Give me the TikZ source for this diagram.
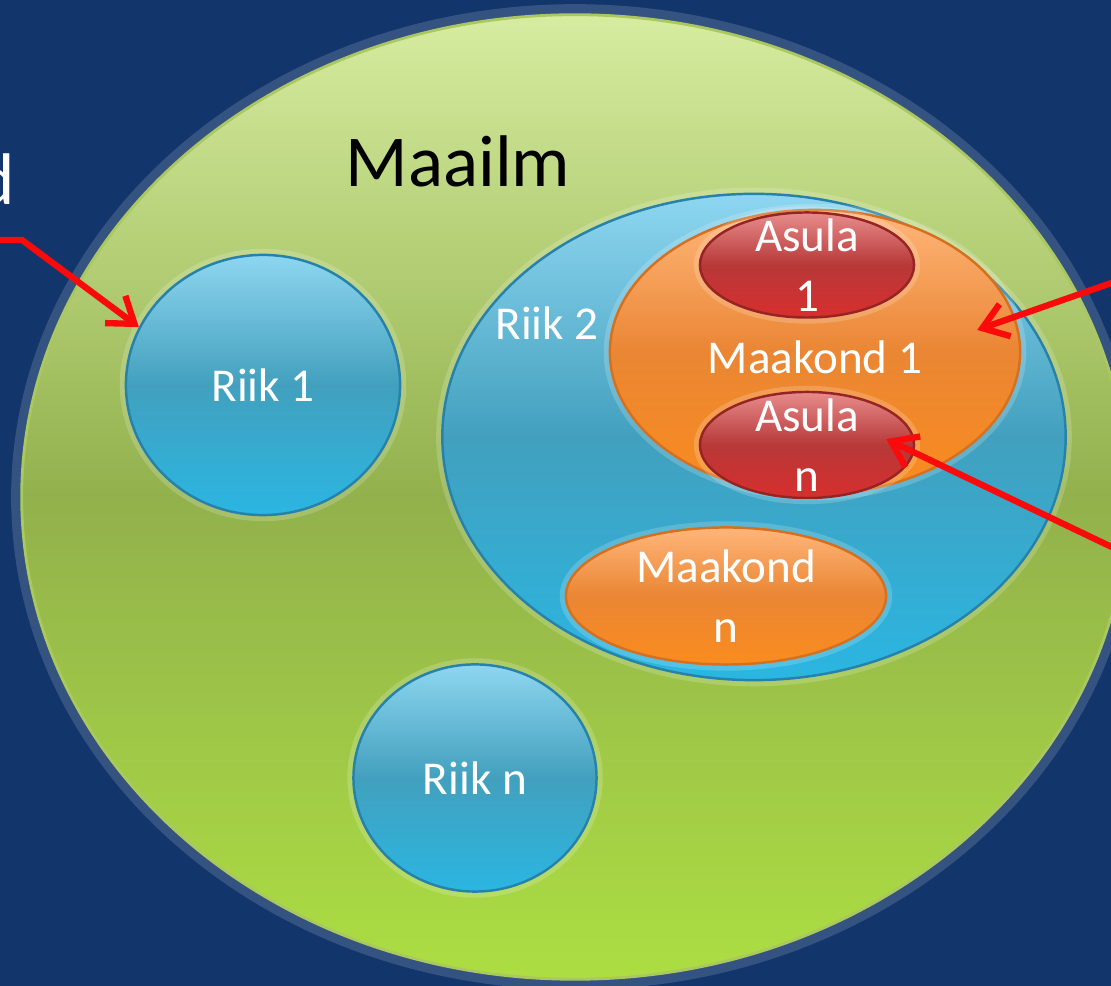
\documentclass[tikz,border=0pt]{standalone}
\usepackage{fontspec}
\setmainfont{Carlito}
\usetikzlibrary{shapes}
\usetikzlibrary{positioning}
\usetikzlibrary{arrows.meta}

\definecolor{bgblue}{RGB}{18,53,108}
\definecolor{greentop}{RGB}{214,236,160}
\definecolor{greenmid}{RGB}{146,177,76}
\definecolor{greenbot}{RGB}{172,222,66}
\definecolor{greenedge}{RGB}{170,200,95}
\definecolor{bluetop}{RGB}{142,214,240}
\definecolor{bluemid}{RGB}{66,160,190}
\definecolor{bluebot}{RGB}{42,182,226}
\definecolor{blueedge}{RGB}{38,130,170}
\definecolor{orangetop}{RGB}{255,182,122}
\definecolor{orangemid}{RGB}{234,134,52}
\definecolor{orangebot}{RGB}{250,140,30}
\definecolor{orangeedge}{RGB}{215,112,30}
\definecolor{redtop}{RGB}{232,140,140}
\definecolor{redmid}{RGB}{184,56,56}
\definecolor{redbot}{RGB}{216,46,46}
\definecolor{rededge}{RGB}{150,36,36}
\definecolor{arrowred}{RGB}{250,10,10}

\begin{document}
\begin{tikzpicture}[
    x=0.01cm, y=-0.01cm,
    font=\fontsize{13.4}{17}\selectfont
]
\tikzset{
    glow/.style = {preaction={draw=white, draw opacity=0.18, line width=3.5pt}},
    world/.style = {ellipse, draw=greenedge, line width=0.8pt, inner sep=0pt,
        top color=greentop, bottom color=greenbot, middle color=greenmid,
        preaction={draw=white, draw opacity=0.15, line width=6pt}},
    riik/.style = {ellipse, draw=blueedge, line width=0.7pt, inner sep=0pt,
        top color=bluetop, bottom color=bluebot, middle color=bluemid, glow},
    maakond/.style = {ellipse, draw=orangeedge, line width=0.7pt, inner sep=0pt,
        top color=orangetop, bottom color=orangebot, middle color=orangemid, glow},
    asula/.style = {ellipse, draw=rededge, line width=0.7pt, inner sep=0pt,
        top color=redtop, bottom color=redbot, middle color=redmid, glow},
    txt/.style = {text=white, align=center, inner sep=0pt},
    bigtxt/.style = {font=\fontsize{20.8}{25}\selectfont, inner sep=0pt},
    pointer/.style = {-{Straight Barb[length=0.24cm, width=0.34cm]},
        line width=1.8pt, arrowred}
}
\path[use as bounding box, fill=bgblue] (0,0) rectangle (1111,986);
\clip (0,0) rectangle (1111,986);

\node[world, minimum width=11.06cm, minimum height=9.64cm] at (575,497) (maailm) {};
\node[bigtxt, anchor=base] at (458,187) (maailmtxt) {Maailm};
\node[bigtxt, text=white, anchor=base east] at (16,205) (dtxt) {d};

\node[riik, minimum width=2.74cm, minimum height=2.6cm] at (263,385) (riik1)
    {\textcolor{white}{Riik 1}};
\node[riik, minimum width=2.43cm, minimum height=2.27cm] at (475,778) (riikn)
    {\textcolor{white}{Riik n}};
\node[riik, minimum width=6.23cm, minimum height=4.86cm] at (754,437) (riik2) {};
\node[txt, anchor=base] at (547,340) (riik2txt) {Riik 2};

\node[maakond, minimum width=3.2cm, minimum height=1.37cm, label={[txt]center:{Maakond\\n}}]
    at (726,596) (maakondn) {};
\node[maakond, minimum width=4.1cm, minimum height=2.84cm] at (815,352) (maakond1) {};
\node[txt] at (815,357) (maakond1txt) {Maakond 1};

\node[asula, minimum width=2.14cm, minimum height=1.05cm, label={[txt]center:{Asula\\1}}]
    at (807,265) (asula1) {};
\node[asula, minimum width=2.14cm, minimum height=1.06cm, label={[txt]center:{Asula\\n}}]
    at (807,445) (asulan) {};

\coordinate (lfree) at (-10,240);
\coordinate (lbend) at (22,240);
\coordinate (rtfree) at (1120,280);
\coordinate (rbfree) at (1120,551);
\draw[pointer] (lfree) -- (lbend) -- (riik1.155);
\draw[pointer, shorten >=-0.4cm] (rtfree) -- (maakond1.10);
\draw[pointer, shorten >=-0.31cm] (rbfree) -- (asulan.-4);
\end{tikzpicture}
\end{document}
